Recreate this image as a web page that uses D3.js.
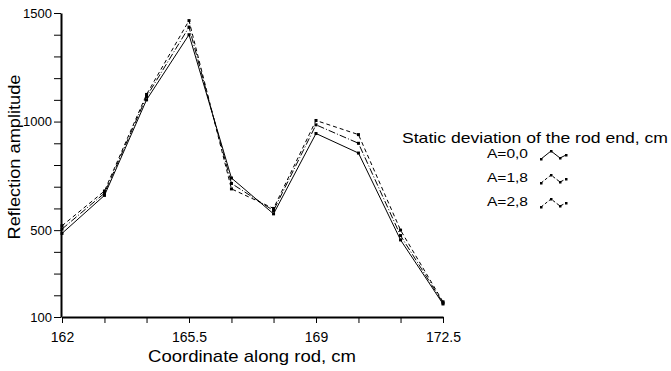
<!DOCTYPE html>
<html>
<head>
<meta charset="utf-8">
<script src="https://cdn.jsdelivr.net/npm/d3@7"></script>
<style>
  body { margin: 0; background: #fff; }
  svg { display: block; font-family: "Liberation Sans", Arial, sans-serif; }
</style>
</head>
<body>
<svg id="chart" width="671" height="371"></svg>
<script>
// positions along the rod, cm
const coords = [162, 163.17, 164.33, 165.5, 166.67, 167.83, 169, 170.17, 171.33, 172.5];

// reflection amplitude for each static deviation
const ampA00 = [485, 660, 1100, 1400, 740, 575, 945, 855, 455, 160];
const ampA18 = [505, 670, 1115, 1435, 715, 590, 985, 900, 475, 165];
const ampA28 = [520, 680, 1125, 1465, 690, 600, 1005, 940, 500, 170];

const seriesNames = ["A=0,0", "A=1,8", "A=2,8"];
const yTicks = [100, 200, 300, 400, 500, 600, 700, 800, 900, 1000, 1100, 1200, 1300, 1400, 1500];
const yLabels = [100, 500, 1000, 1500];
const xTicks = [162, 163.17, 164.33, 165.5, 166.67, 167.83, 169, 170.17, 171.33, 172.5];
const xLabels = [162, 165.5, 169, 172.5];

const series = [
  { name: seriesNames[0], values: ampA00, dash: null },
  { name: seriesNames[1], values: ampA18, dash: "7,2,1,2" },
  { name: seriesNames[2], values: ampA28, dash: "4,3" }
];

const svg = d3.select("#chart");

const x = d3.scaleLinear().domain([162, 172.5]).range([62, 443]);
const y = d3.scaleLinear().domain([100, 1500]).range([317, 13]);

// y axis
const yAxis = d3.axisLeft(y)
  .tickValues(yTicks)
  .tickSize(7)
  .tickSizeOuter(0)
  .tickPadding(2)
  .tickFormat(d => yLabels.includes(d) ? d : "");

const gy = svg.append("g")
  .attr("transform", "translate(61,0)")
  .call(yAxis);
gy.select(".domain").attr("stroke-width", 2);
gy.selectAll("text").attr("font-size", 13).attr("font-family", "Liberation Sans, Arial, sans-serif");

// x axis
const xAxis = d3.axisBottom(x)
  .tickValues(xTicks)
  .tickSize(6)
  .tickSizeOuter(0)
  .tickPadding(9)
  .tickFormat(d => xLabels.includes(d) ? d : "");

const gx = svg.append("g")
  .attr("transform", "translate(0,317)")
  .call(xAxis);
gx.select(".domain").attr("stroke-width", 2);
gx.selectAll("text").attr("font-size", 14).attr("font-family", "Liberation Sans, Arial, sans-serif");

// axis titles
svg.append("text")
  .attr("x", 252)
  .attr("y", 362)
  .attr("text-anchor", "middle")
  .attr("font-size", 17)
  .attr("textLength", 208)
  .attr("lengthAdjust", "spacingAndGlyphs")
  .text("Coordinate along rod, cm");

svg.append("text")
  .attr("transform", "translate(20,157) rotate(-90)")
  .attr("text-anchor", "middle")
  .attr("font-size", 17)
  .attr("textLength", 165)
  .attr("lengthAdjust", "spacingAndGlyphs")
  .text("Reflection amplitude");

// series lines
const line = d3.line()
  .x((d, i) => x(coords[i]))
  .y(d => y(d));

series.forEach(s => {
  svg.append("path")
    .datum(s.values)
    .attr("fill", "none")
    .attr("stroke", "#000")
    .attr("stroke-width", 1)
    .attr("stroke-dasharray", s.dash)
    .attr("d", line);

  svg.append("g")
    .selectAll("rect")
    .data(s.values)
    .join("rect")
    .attr("x", (d, i) => x(coords[i]) - 1.5)
    .attr("y", d => y(d) - 1.5)
    .attr("width", 3)
    .attr("height", 3)
    .attr("fill", "#000");
});

// legend
const legend = svg.append("g");
legend.append("text")
  .attr("x", 402)
  .attr("y", 143)
  .attr("font-size", 15)
  .attr("textLength", 266)
  .attr("lengthAdjust", "spacingAndGlyphs")
  .text("Static deviation of the rod end, cm");

const glyph = [[0, 8], [10, 0], [19, 7], [25, 4]];

series.forEach((s, i) => {
  const cy = 154 + i * 24;
  legend.append("text")
    .attr("x", 487)
    .attr("y", cy + 4)
    .attr("font-size", 12)
    .attr("textLength", 41)
    .attr("lengthAdjust", "spacingAndGlyphs")
    .text(s.name);

  legend.append("path")
    .attr("fill", "none")
    .attr("stroke", "#000")
    .attr("stroke-width", 1)
    .attr("stroke-dasharray", s.dash ? "3,2" : null)
    .attr("d", d3.line()(glyph.map(p => [541 + p[0], cy - 3 + p[1]])));

  legend.selectAll(null)
    .data(glyph)
    .join("rect")
    .attr("x", p => 541 + p[0] - 1)
    .attr("y", p => cy - 3 + p[1] - 1)
    .attr("width", 2.5)
    .attr("height", 2.5)
    .attr("fill", "#000");
});
</script>
</body>
</html>
